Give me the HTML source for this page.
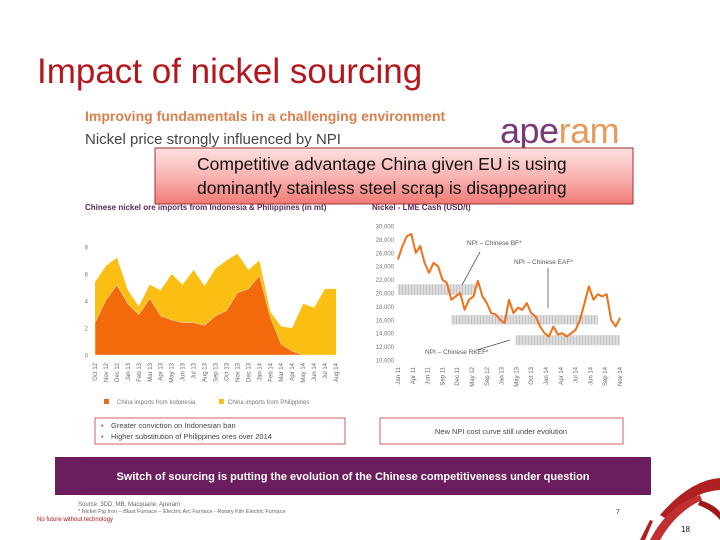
<!DOCTYPE html>
<html><head><meta charset="utf-8"><style>
html,body{margin:0;padding:0;background:#fff;}
svg{display:block;font-family:"Liberation Sans",sans-serif;}
</style></head><body>
<svg width="720" height="540" viewBox="0 0 720 540">
<defs>
<linearGradient id="cg" x1="0" y1="0" x2="0" y2="1">
<stop offset="0" stop-color="#fde0df"/><stop offset="0.5" stop-color="#f9b5b3"/><stop offset="1" stop-color="#f07a76"/>
</linearGradient>
<pattern id="hatch" width="3" height="3" patternUnits="userSpaceOnUse">
<rect width="3" height="3" fill="#dcdcdc"/><rect width="1" height="3" fill="#c4c4c4"/>
</pattern>
</defs>
<text x="37" y="83" font-size="35" fill="#b5161b">Impact of nickel sourcing</text>
<text x="85" y="121" font-size="14" font-weight="bold" fill="#d9804e">Improving fundamentals in a challenging environment</text>
<text x="85" y="144" font-size="15" fill="#444">Nickel price strongly influenced by NPI</text>
<text x="500" y="143" font-size="36" fill="#7a3a78" letter-spacing="-0.5">ape<tspan fill="#e89a5a">ram</tspan></text>

<g>
<text x="85" y="210" font-size="8" font-weight="bold" fill="#5a2a5a">Chinese nickel ore imports from Indonesia &amp; Philippines (in mt)</text>
<g id="lc"></g>
</g>
<g>
<text x="372" y="210" font-size="8" font-weight="bold" fill="#5a2a5a">Nickel - LME Cash (USD/t)</text>
<g id="rc"></g>
</g>

<g>
<rect x="155" y="148" width="478" height="56" fill="url(#cg)" stroke="#a03030" stroke-width="1"/>
<text x="197" y="170" font-size="17.5" fill="#111">Competitive advantage China given EU is using</text>
<text x="197" y="194" font-size="17.5" fill="#111">dominantly stainless steel scrap is disappearing</text>
</g>

<g>
<rect x="95" y="418" width="250" height="26" fill="#fff" stroke="#d06060" stroke-width="1"/>
<text x="101" y="428" font-size="7.5" fill="#d04040">•</text><text x="111" y="428" font-size="7.5" fill="#444">Greater conviction on Indonesian ban</text>
<text x="101" y="439" font-size="7.5" fill="#d04040">•</text><text x="111" y="439" font-size="7.5" fill="#444">Higher substitution of Philippines ores over 2014</text>
</g>
<g>
<rect x="380" y="418" width="243" height="26" fill="#fff" stroke="#d06060" stroke-width="1"/>
<text x="501" y="434" font-size="7.5" fill="#444" text-anchor="middle">New NPI cost curve still under evolution</text>
</g>
<g>
<rect x="55" y="457" width="596" height="38" fill="#6b1d5e"/>
<text x="353" y="480" font-size="11" font-weight="bold" fill="#fff" text-anchor="middle">Switch of sourcing is putting the evolution of the Chinese competitiveness under question</text>
</g>
<text x="78" y="506" font-size="6" fill="#666">Source: 3DD, MB, Macquarie, Aperam</text>
<text x="78" y="513" font-size="5.5" fill="#666">* Nickel Pig Iron – Blast Furnace – Electric Arc Furnace - Rotary Kiln Electric Furnace</text>
<text x="37" y="521" font-size="6" fill="#b5161b">No future without technology</text>
<text x="616" y="514" font-size="7" fill="#333">7</text>
<g>
<path d="M660 515 Q690 480 720 478 L720 490 Q690 492 668 520 Z" fill="#b02020"/>
<path d="M650 540 Q668 505 700 495 L702 500 Q676 512 660 540 Z" fill="#c03030"/>
<path d="M700 500 Q715 505 720 512 L720 520 Q712 510 698 505 Z" fill="#a01818"/>
<path d="M640 540 L650 520 L653 521 L645 540 Z" fill="#b02020"/>
</g>
<text x="681" y="532" font-size="8" fill="#111">18</text>
</svg>
<script>
var NS="http://www.w3.org/2000/svg";
function mk(parent,tag,attrs){var e=document.createElementNS(NS,tag);for(var k in attrs)e.setAttribute(k,attrs[k]);parent.appendChild(e);return e;}

// Left chart data
var months=["Oct 12","Nov 12","Dec 12","Jan 13","Feb 13","Mar 13","Apr 13","May 13","Jun 13","Jul 13","Aug 13","Sep 13","Oct 13","Nov 13","Dec 13","Jan 14","Feb 14","Mar 14","Apr 14","May 14","Jun 14","Jul 14","Aug 14"];
var indonesia=[2.4,4.1,5.2,3.8,3.0,4.2,2.9,2.6,2.4,2.4,2.2,2.9,3.3,4.6,4.9,5.9,2.8,0.8,0.3,0,0,0,0];
var philippines=[3.0,2.5,2.0,1.0,0.6,1.0,1.9,3.4,2.8,3.9,2.9,3.5,3.7,2.9,1.4,1.1,0.4,1.3,1.7,3.8,3.5,4.9,4.9];
var leftTicks=[0,2,4,6,8];

// Right chart data
var priceLabels=["Jan 11","Apr 11","Jun 11","Sep 11","Dec 11","May 12","Sep 12","Jan 13","May 13","Oct 13","Jan 14","Apr 14","Jul 14","Jun 14","Sep 14","Nov 14"];
var prices=[25000,27000,28500,28800,26000,27000,24500,23000,24500,24000,22000,21500,19000,19500,20000,17500,19000,19500,21800,19500,18500,17000,16800,16000,15500,19000,17000,17800,17500,18500,17000,16500,15000,14000,13500,15000,13800,14000,13500,14000,14500,16000,18500,21000,19000,19800,19500,19800,16000,15000,16300];
var rightTicks=[10000,12000,14000,16000,18000,20000,22000,24000,26000,28000,30000];
var bandLow=[19700,15300,12200];
var bandHigh=[21300,16700,13700];
var bandStart=[0,0.24,0.53];
var bandEnd=[0.35,0.9,1];

// Left chart
(function(){
var g=document.getElementById('lc');
var x0=95,x1=336,y0=355,yTop=247,maxV=8;
function X(i){return x0+i*(x1-x0)/(months.length-1);}
function Y(v){return y0-(v/maxV)*(y0-yTop);}
leftTicks.forEach(function(t){
var tx=mk(g,'text',{x:88,y:Y(t)+2.5,'font-size':6,fill:'#777','text-anchor':'end'});tx.textContent=t;


});
var top="",ind="";
months.forEach(function(m,i){top+=(i?"L":"M")+X(i)+" "+Y(indonesia[i]+philippines[i]);ind+=(i?"L":"M")+X(i)+" "+Y(indonesia[i]);});
var p1=mk(g,'path',{d:top+"L"+X(months.length-1)+" "+y0+"L"+x0+" "+y0+"Z",fill:'#fbbf14'});


var p2=mk(g,'path',{d:ind+"L"+X(months.length-1)+" "+y0+"L"+x0+" "+y0+"Z",fill:'#f26a0c',stroke:'#fde0b0','stroke-width':0.6});


months.forEach(function(m,i){
var t=mk(g,'text',{x:0,y:0,'font-size':6,fill:'#666','text-anchor':'end',transform:'translate('+(X(i)+2)+','+(y0+8)+') rotate(-90)'});t.textContent=m;


});
var l1=mk(g,'rect',{x:104,y:399,width:5,height:5,fill:'#e86a1c'});


var lt1=mk(g,'text',{x:117,y:404,'font-size':6,fill:'#777'});lt1.textContent="China imports from Indonesia";


var l2=mk(g,'rect',{x:219,y:399,width:5,height:5,fill:'#f0c020'});


var lt2=mk(g,'text',{x:228,y:404,'font-size':6,fill:'#777'});lt2.textContent="China imports from Philippines";


})();

// Right chart
(function(){
var g=document.getElementById('rc');
var x0=398,x1=620,yb=360,yt=226,vmin=10000,vmax=30000;
function Y(v){return yb-(v-vmin)/(vmax-vmin)*(yb-yt);}
function Xf(f){return x0+f*(x1-x0);}
rightTicks.forEach(function(t){
var tx=mk(g,'text',{x:394,y:Y(t)+2.5,'font-size':6,fill:'#777','text-anchor':'end'});tx.textContent=t.toLocaleString('en-US');


});
bandLow.forEach(function(lo,i){
var r=mk(g,'rect',{x:Xf(bandStart[i]),y:Y(bandHigh[i]),width:Xf(bandEnd[i])-Xf(bandStart[i]),height:Y(lo)-Y(bandHigh[i]),fill:'url(#hatch)'});


});
var d="";
prices.forEach(function(v,i){d+=(i?"L":"M")+Xf(i/(prices.length-1)).toFixed(1)+" "+Y(v).toFixed(1);});
var ln=mk(g,'path',{d:d,fill:'none',stroke:'#f07018','stroke-width':2,'stroke-linejoin':'round'});


priceLabels.forEach(function(m,i){
var t=mk(g,'text',{x:0,y:0,'font-size':6,fill:'#666','text-anchor':'end',transform:'translate('+(Xf(i/(priceLabels.length-1))+2)+',367) rotate(-90)'});t.textContent=m;


});
var ann=[["NPI – Chinese BF*",467,245,480,252,462,285],["NPI – Chinese EAF*",514,264,548,268,548,308],["NPI – Chinese RKEF*",425,354,477,350,510,340]];
ann.forEach(function(a){
var t=mk(g,'text',{x:a[1],y:a[2],'font-size':6.5,fill:'#555'});t.textContent=a[0];


var l=mk(g,'line',{x1:a[3],y1:a[4],x2:a[5],y2:a[6],stroke:'#555','stroke-width':0.8});


});
})();
</script>
</body></html>
